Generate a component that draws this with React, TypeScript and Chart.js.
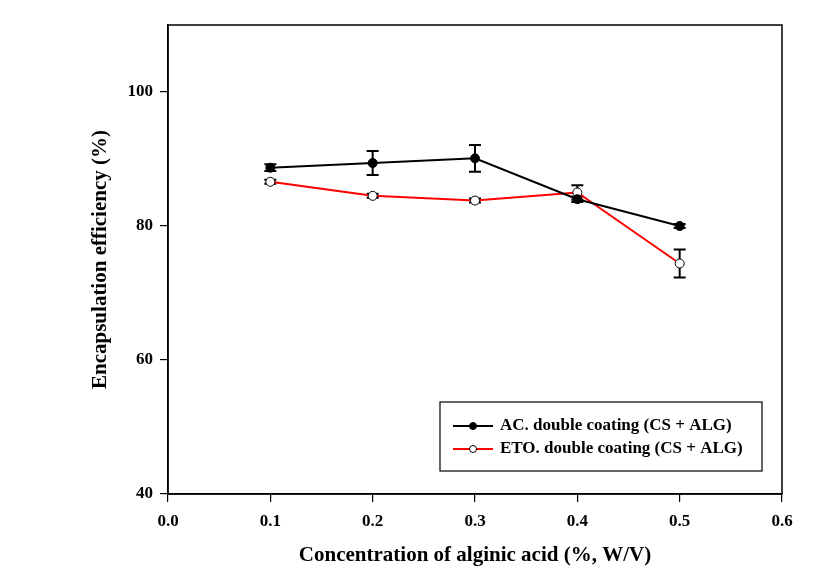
import React, { useEffect, useRef } from "react";
import { Chart, registerables } from "chart.js";

Chart.register(...registerables);

const concentrations = [0.1, 0.2, 0.3, 0.4, 0.5];
const acValues = [88.7, 89.4, 90.1, 84.0, 80.0];
const acErrors = [0.5, 1.8, 2.0, 0.4, 0.3];
const etoValues = [86.6, 84.5, 83.8, 85.0, 74.4];
const etoErrors = [0.3, 0.3, 0.3, 1.1, 2.1];
const xTicks = [0, 0.1, 0.2, 0.3, 0.4, 0.5, 0.6];
const yTicks = [40, 60, 80, 100];
const seriesLabels = ["AC. double coating (CS + ALG)", "ETO. double coating (CS + ALG)"];

const FONT = "'Liberation Serif', 'Times New Roman', serif";

const errorBarPlugin = {
  id: "errorBars",
  beforeDatasetsDraw(chart: any) {
    const ctx = chart.ctx;
    const xs = chart.scales.x;
    const ys = chart.scales.y;
    const errs = [acErrors, etoErrors];
    chart.data.datasets.forEach((ds: any, di: number) => {
      ds.data.forEach((p: any, i: number) => {
        const e = errs[di][i];
        const px = xs.getPixelForValue(p.x);
        const top = ys.getPixelForValue(p.y + e);
        const bot = ys.getPixelForValue(p.y - e);
        ctx.save();
        ctx.strokeStyle = "#000";
        ctx.lineWidth = 2;
        ctx.beginPath();
        ctx.moveTo(px, top);
        ctx.lineTo(px, bot);
        ctx.moveTo(px - 6, top);
        ctx.lineTo(px + 6, top);
        ctx.moveTo(px - 6, bot);
        ctx.lineTo(px + 6, bot);
        ctx.stroke();
        ctx.restore();
      });
    });
  },
};

const framePlugin = {
  id: "frame",
  afterDraw(chart: any) {
    const { ctx, chartArea } = chart;
    ctx.save();
    ctx.strokeStyle = "#000";
    ctx.lineWidth = 1.5;
    ctx.strokeRect(chartArea.left, chartArea.top, chartArea.right - chartArea.left, chartArea.bottom - chartArea.top);

    // legend box
    const w = 322;
    const h = 69;
    const bx = chartArea.right - 20 - w;
    const by = chartArea.bottom - 23 - h;
    ctx.fillStyle = "#fff";
    ctx.fillRect(bx, by, w, h);
    ctx.lineWidth = 1.2;
    ctx.strokeRect(bx, by, w, h);
    const rows = [by + 24, by + 47];
    chart.data.datasets.forEach((ds: any, i: number) => {
      const y = rows[i];
      ctx.strokeStyle = ds.borderColor;
      ctx.lineWidth = 2;
      ctx.beginPath();
      ctx.moveTo(bx + 13, y);
      ctx.lineTo(bx + 53, y);
      ctx.stroke();
      ctx.beginPath();
      ctx.arc(bx + 33, y, 3.5, 0, Math.PI * 2);
      ctx.fillStyle = ds.pointBackgroundColor;
      ctx.fill();
      ctx.strokeStyle = "#000";
      ctx.lineWidth = 1;
      ctx.stroke();
      ctx.fillStyle = "#000";
      ctx.font = `bold 17px ${FONT}`;
      ctx.textBaseline = "middle";
      ctx.textAlign = "left";
      ctx.fillText(ds.label, bx + 60, y);
    });
    ctx.restore();
  },
};

export default function App() {
  const ref = useRef<HTMLCanvasElement>(null);
  useEffect(() => {
    if (!ref.current) return;
    const chart = new Chart(ref.current, {
      type: "line",
      data: {
        datasets: [
          {
            label: seriesLabels[0],
            data: concentrations.map((x, i) => ({ x, y: acValues[i] })),
            borderColor: "#000",
            backgroundColor: "#000",
            borderWidth: 2,
            pointRadius: 4.5,
            pointBackgroundColor: "#000",
            pointBorderColor: "#000",
            pointBorderWidth: 1,
            tension: 0,
          },
          {
            label: seriesLabels[1],
            data: concentrations.map((x, i) => ({ x, y: etoValues[i] })),
            borderColor: "#ff0000",
            backgroundColor: "#fff",
            borderWidth: 2,
            pointRadius: 4.5,
            pointBackgroundColor: "#fff",
            pointBorderColor: "#000",
            pointBorderWidth: 1,
            tension: 0,
          },
        ],
      },
      options: {
        animation: false,
        responsive: false,
        layout: { padding: { top: 25, right: 43, left: 0, bottom: 0 } },
        plugins: { legend: { display: false }, tooltip: { enabled: false } },
        scales: {
          x: {
            type: "linear",
            min: 0,
            max: 0.6,
            afterBuildTicks: (s: any) => {
              s.ticks = xTicks.map((v) => ({ value: v }));
            },
            afterFit: (s: any) => {
              s.height = 89;
            },
            grid: { drawOnChartArea: false, drawTicks: true, tickLength: 8, color: "#000", lineWidth: 1.2 },
            border: { display: true, color: "#000", width: 1.5 },
            ticks: {
              color: "#000",
              padding: 9,
              font: { family: FONT, size: 17, weight: "bold" },
              callback: (v: any) => Number(v).toFixed(1),
            },
            title: {
              display: true,
              text: "Concentration of alginic acid (%, W/V)",
              color: "#000",
              font: { family: FONT, size: 21, weight: "bold" },
              padding: { top: 0, bottom: 15 },
            },
          },
          y: {
            type: "linear",
            min: 40,
            max: 110,
            afterBuildTicks: (s: any) => {
              s.ticks = yTicks.map((v) => ({ value: v }));
            },
            afterFit: (s: any) => {
              s.width = 168;
            },
            grid: { drawOnChartArea: false, drawTicks: true, tickLength: 8, color: "#000", lineWidth: 1.2 },
            border: { display: true, color: "#000", width: 1.5 },
            ticks: {
              color: "#000",
              padding: 7,
              font: { family: FONT, size: 17, weight: "bold" },
            },
            title: {
              display: true,
              text: "Encapsulation efficiency (%)",
              color: "#000",
              font: { family: FONT, size: 21, weight: "bold" },
              padding: { top: 88, bottom: 0 },
            },
          },
        },
      },
      plugins: [errorBarPlugin, framePlugin],
    } as any);
    return () => chart.destroy();
  }, []);
  return (
    <div style={{ position: "absolute", left: 0, top: 0, width: 825, height: 583, background: "#fff" }}>
      <canvas ref={ref} width={825} height={583} />
    </div>
  );
}
